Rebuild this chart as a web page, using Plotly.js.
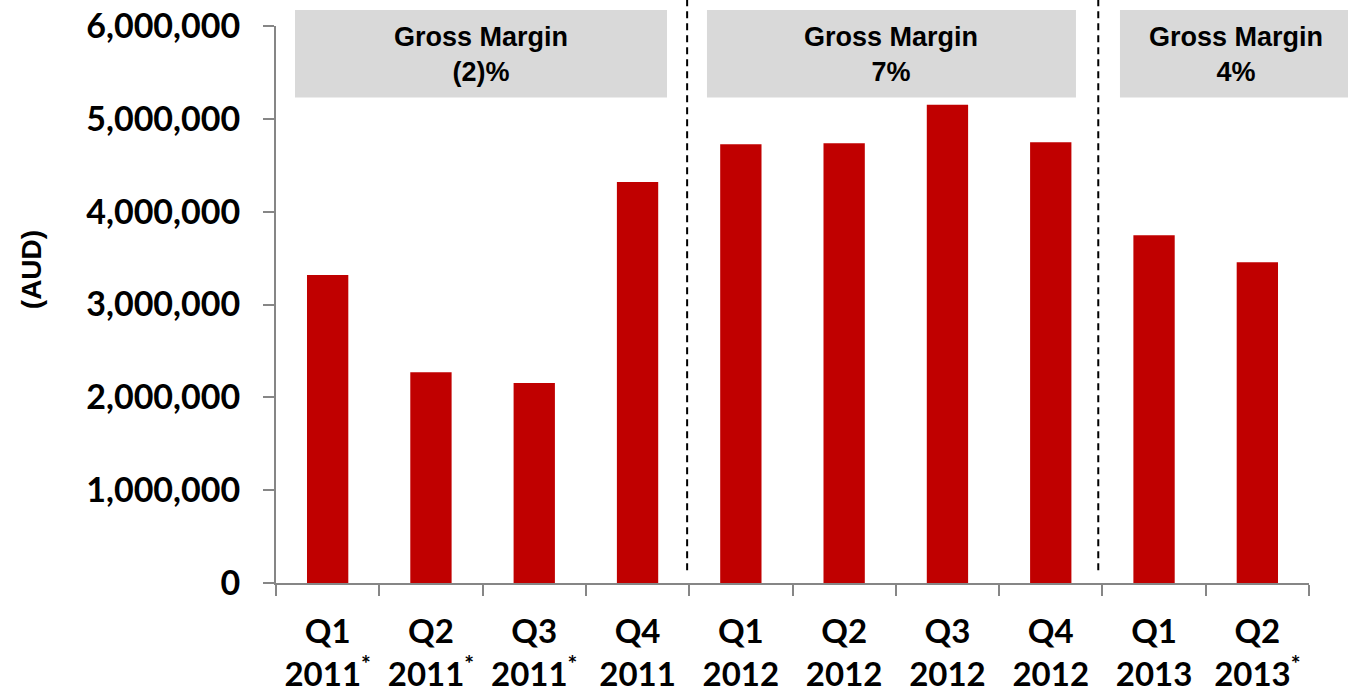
<!DOCTYPE html>
<html>
<head>
<meta charset="utf-8">
<script src="https://cdn.plot.ly/plotly-3.0.1.min.js"></script>
<style>html,body{margin:0;padding:0;background:#fff;}#chart{width:1348px;height:695px;}</style>
</head>
<body>
<div id="chart"></div>
<script>
var categories = ["Q1<br>2011<sup>*</sup>", "Q2<br>2011<sup>*</sup>", "Q3<br>2011<sup>*</sup>", "Q4<br>2011",
                  "Q1<br>2012", "Q2<br>2012", "Q3<br>2012", "Q4<br>2012",
                  "Q1<br>2013", "Q2<br>2013<sup>*</sup>"];
var revenue = [3318000, 2270000, 2154000, 4320000, 4726000, 4737000, 5153000, 4747000, 3745000, 3455000];
var yTickVals = [0, 1000000, 2000000, 3000000, 4000000, 5000000, 6000000];
var yTickText = ["0", "1,000,000", "2,000,000", "3,000,000", "4,000,000", "5,000,000", "6,000,000"];
var marginLabels = ["Gross Margin<br>(2)%", "Gross Margin<br>7%", "Gross Margin<br>4%"];
var yAxisLabel = "(AUD)";

var boxX = [[0.0184, 0.3785], [0.4172, 0.7744], [0.817, 1.04]];
var boxTextX = [0.1985, 0.5958, 0.929];
var boxY = [0.8716, 1.0287];
var armFont = "'Liberation Sans', Arial, sans-serif";

var shapes = [];
var annotations = [];
for (var i = 0; i < marginLabels.length; i++) {
  shapes.push({type: 'rect', xref: 'paper', yref: 'paper', x0: boxX[i][0], x1: boxX[i][1], y0: boxY[0], y1: boxY[1],
               fillcolor: '#D9D9D9', line: {width: 0}, layer: 'below'});
  annotations.push({xref: 'paper', yref: 'paper', x: boxTextX[i],
                    y: (boxY[0] + boxY[1]) / 2 - 0.002, text: '<b>' + marginLabels[i] + '</b>', showarrow: false,
                    xanchor: 'center', yanchor: 'middle',
                    font: {family: armFont, size: 27, color: '#000'}});
}
annotations.push({xref: 'paper', yref: 'paper', x: -0.236, y: 0.562, text: '<b>' + yAxisLabel + '</b>',
                  showarrow: false, textangle: -90, xanchor: 'center', yanchor: 'middle',
                  font: {family: armFont, size: 28, color: '#000'}});
[3.48, 7.46].forEach(function (xv) {
  shapes.push({type: 'line', xref: 'x', yref: 'paper', x0: xv, x1: xv, y0: 0.023, y1: 1.05,
               line: {color: '#000', width: 2, dash: '7px,5px'}});
});

var trace = {
  type: 'bar', x: categories, y: revenue,
  marker: {color: '#C00000', line: {width: 0}},
  hoverinfo: 'skip'
};

var layout = {
  width: 1348, height: 695,
  margin: {l: 276, r: 39, t: 26, b: 112, autoexpand: false},
  paper_bgcolor: '#fff', plot_bgcolor: '#fff',
  showlegend: false,
  bargap: 0.6,
  font: {family: 'Lato, sans-serif', color: '#000'},
  xaxis: {
    type: 'category', showgrid: false, zeroline: false,
    showline: true, linecolor: '#868686', linewidth: 2,
    ticks: 'outside', ticklen: 11, tickwidth: 2, tickcolor: '#868686',
    tickson: 'boundaries',
    tickfont: {family: 'Lato, sans-serif', size: 33, color: '#000', weight: 'bold'},
    ticklabelstandoff: 18,
    automargin: false
  },
  yaxis: {
    range: [0, 6000000], showgrid: false, zeroline: false,
    showline: true, linecolor: '#868686', linewidth: 2,
    ticks: 'outside', ticklen: 11, tickwidth: 2, tickcolor: '#868686',
    tickvals: yTickVals, ticktext: yTickText,
    tickfont: {family: 'Lato, sans-serif', size: 34, color: '#000', weight: 'bold'},
    ticklabelstandoff: 16,
    automargin: false
  },
  shapes: shapes,
  annotations: annotations
};

Plotly.newPlot('chart', [trace], layout, {displayModeBar: false, staticPlot: true});
</script>
</body>
</html>
